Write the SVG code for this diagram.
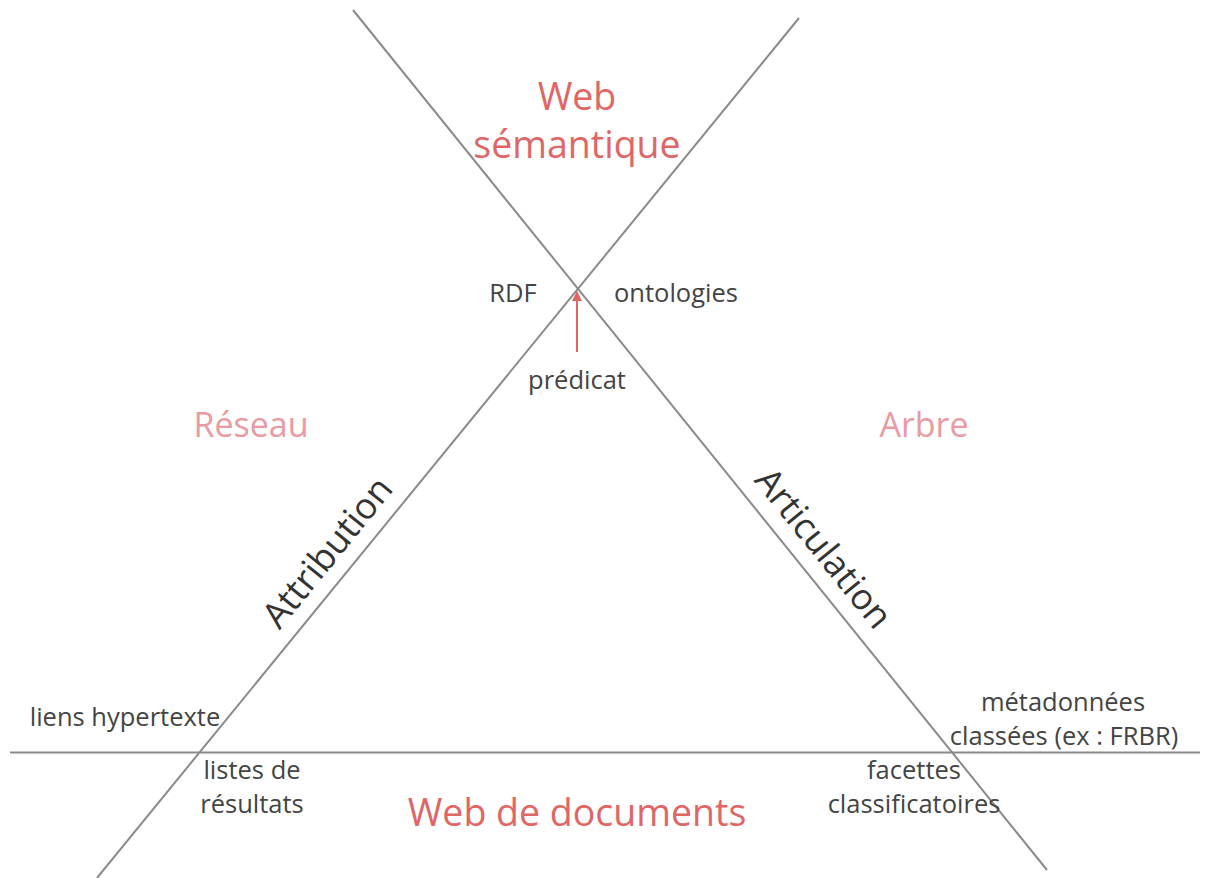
<svg xmlns="http://www.w3.org/2000/svg" width="1207" height="878" viewBox="0 0 1207 878">
<style>
.ln{stroke:#8a8a8a;stroke-width:2;fill:none}
.t{font-family:"Open Sans","Noto Sans","Liberation Sans",sans-serif;fill:#444}
.s{font-size:25.5px}
.big{font-size:37.5px;fill:#e06666}
.pale{font-size:34px;fill:#e99aa2}
.rot{font-size:36px;fill:#333}
</style>
<defs>
<marker id="ah" viewBox="0 0 10 10" refX="9" refY="5" markerWidth="5" markerHeight="5" orient="auto">
<path d="M0,0 L10,5 L0,10 Z" fill="#e06666"/>
</marker>
</defs>
<rect width="1207" height="878" fill="#fff"/>
<g id="connectors">
<line class="ln" x1="353" y1="10" x2="1047" y2="870"/>
<line class="ln" x1="799" y1="18" x2="97" y2="878"/>
<line class="ln" x1="10" y1="752.5" x2="1200" y2="752.5"/>
<line x1="577" y1="352" x2="577" y2="292" stroke="#e06666" stroke-width="2" marker-end="url(#ah)"/>
</g>
<g id="web-semantique"><text class="t big" x="577" y="110" text-anchor="middle">Web</text><text class="t big" x="577" y="158" text-anchor="middle">sémantique</text></g>
<g id="rdf"><text class="t s" x="513" y="302" text-anchor="middle">RDF</text></g>
<g id="ontologies"><text class="t s" x="676" y="302" text-anchor="middle">ontologies</text></g>
<g id="predicat"><text class="t s" x="577" y="389" text-anchor="middle">prédicat</text></g>
<g id="reseau"><text class="t pale" x="251" y="437" text-anchor="middle">Réseau</text></g>
<g id="arbre"><text class="t pale" x="924" y="437" text-anchor="middle">Arbre</text></g>
<g id="attribution"><text class="t rot" text-anchor="middle" transform="translate(337,560) rotate(-50.8)">Attribution</text></g>
<g id="articulation"><text class="t rot" text-anchor="middle" transform="translate(814,556) rotate(51.1)">Articulation</text></g>
<g id="liens"><text class="t s" x="125" y="726" text-anchor="middle">liens hypertexte</text></g>
<g id="listes"><text class="t s" x="252" y="779" text-anchor="middle">listes de</text><text class="t s" x="252" y="813" text-anchor="middle">résultats</text></g>
<g id="metadonnees"><text class="t s" x="1063" y="711" text-anchor="middle">métadonnées</text><text class="t s" x="1064" y="745" text-anchor="middle">classées (ex : FRBR)</text></g>
<g id="facettes"><text class="t s" x="914" y="779" text-anchor="middle">facettes</text><text class="t s" x="914" y="813" text-anchor="middle">classificatoires</text></g>
<g id="web-documents"><text class="t big" x="577" y="826" text-anchor="middle">Web de documents</text></g>
</svg>
